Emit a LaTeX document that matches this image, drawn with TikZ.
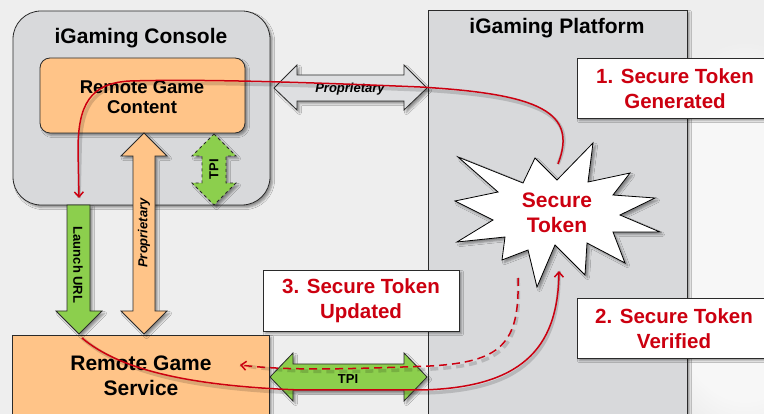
\documentclass[tikz,border=0pt]{standalone}
\usepackage{fontspec}
\setmainfont{Liberation Sans}
\usetikzlibrary{shadows,shadows.blur,arrows.meta,fadings}
\definecolor{bgc}{HTML}{EEEEEE}
\definecolor{panel}{HTML}{D8D9DB}
\definecolor{orng}{HTML}{FFC488}
\definecolor{grn}{HTML}{8CCF4D}
\definecolor{tokred}{HTML}{CC0010}
\definecolor{edge}{HTML}{2A2A2A}
\definecolor{arrgrey}{HTML}{DEDFE1}
\begin{document}
\begin{tikzpicture}[x=1pt,y=-1pt,
  shad/.style={blur shadow={shadow xshift=2.5pt,shadow yshift=-2.5pt}},
  boxline/.style={draw=edge,line width=0.8pt},
  titletxt/.style={font=\fontsize{21}{25}\selectfont\bfseries,align=center,inner sep=0pt},
  bodytxt/.style={font=\fontsize{18.5}{20.7}\selectfont\bfseries,align=center,inner sep=0pt},
  bigtxt/.style={font=\fontsize{21}{25}\selectfont\bfseries,align=center,inner sep=0pt},
  redtxt/.style={font=\fontsize{20.5}{25}\selectfont\bfseries,text=tokred,align=center,inner sep=0pt},
  smalltxt/.style={font=\fontsize{13}{15}\selectfont\bfseries,inner sep=0pt},
  redline/.style={draw=tokred,line width=1.5pt},
  redshadow/.style={draw=black,opacity=0.15,line width=3.5pt},
  redtip/.style={-{Straight Barb[length=5pt,width=9pt]}}
]
\useasboundingbox (0,0) rectangle (764,414);
% background
\fill[bgc] (0,0) rectangle (764,414);
\fill[white,path fading=circle with fuzzy edge 20 percent,opacity=0.55] (745,240) ellipse [x radius=110pt,y radius=200pt];

% platform
\draw[boxline,fill=panel,shad] (428,10) rectangle (687,440);
\node[titletxt] (platformtitle) at (557,28) {iGaming Platform};

% console
\draw[boxline,fill=panel,rounded corners=28pt,shad] (13,11) rectangle (270,205);
\node[titletxt] (consoletitle) at (141,38) {iGaming Console};
\draw[boxline,fill=orng,rounded corners=10pt,shad] (40,58) rectangle (245,133);
\node[bodytxt] (rgc) at (142,97) {Remote Game\\Content};

% remote game service
\draw[boxline,fill=orng,shad] (12,335) rectangle (269,440);
\node[bigtxt] (rgs) at (141,376) {Remote Game\\Service};

% orange proprietary arrow
\draw[boxline,fill=orng,shad] (144,133) -- (167,156) -- (155,156) -- (155,311) -- (167,311) -- (144,334)
  -- (121,311) -- (133,311) -- (133,156) -- (121,156) -- cycle;
\node[smalltxt,font=\fontsize{13}{15}\selectfont\bfseries\itshape,rotate=90] (propv) at (144,233) {Proprietary};

% green TPI in console (dashed)
\draw[boxline,dashed,fill=grn,shad] (214,134) -- (236,156) -- (226,156) -- (226,183) -- (236,183) -- (214,205)
  -- (192,183) -- (202,183) -- (202,156) -- (192,156) -- cycle;
\node[smalltxt,rotate=90] (tpiv) at (214,169) {TPI};

% launch URL arrow
\draw[boxline,fill=grn,shad] (67,205) -- (90,205) -- (90,311) -- (102,311) -- (79,334) -- (56,311) -- (67,311) -- cycle;
\node[smalltxt,rotate=-90] (launch) at (78,265) {Launch URL};

% grey proprietary double arrow
\draw[boxline,fill=arrgrey,shad] (274,88) -- (297,65) -- (297,75) -- (404,75) -- (404,65) -- (427,88)
  -- (404,110) -- (404,101) -- (297,101) -- (297,110) -- cycle;
\node[smalltxt,font=\fontsize{13}{15}\selectfont\bfseries\itshape] (proph) at (350,89) {Proprietary};

% green TPI double arrow
\draw[boxline,fill=grn,shad] (270,377) -- (293,353) -- (293,364) -- (404,364) -- (404,353) -- (427,377)
  -- (404,401) -- (404,390) -- (293,390) -- (293,401) -- cycle;
\node[smalltxt] (tpih) at (348,379) {TPI};

% starburst
\draw[draw=black,line width=0.8pt,fill=white,shad] (458,157) -- (523,183) -- (535,158) -- (557,180) -- (593,143)
  -- (588,182) -- (630,173) -- (613,195) -- (655,198) -- (620,215) -- (660,232) -- (613,232)
  -- (625,263) -- (587,243) -- (585,275) -- (555,245) -- (537,287) -- (528,250) -- (502,260)
  -- (505,237) -- (457,242) -- (493,220) -- (455,201) -- (498,192) -- cycle;
\node[bigtxt,text=tokred] (tok) at (557,213) {Secure\\Token};

% labels
\draw[draw=edge,line width=0.8pt,fill=white,shad] (577,58) rectangle (790,118);
\node[redtxt] (step1) at (675,89) {1. Secure Token\\Generated};
\draw[draw=edge,line width=0.8pt,fill=white,shad] (577,298) rectangle (790,358);
\node[redtxt] (step2) at (674,329) {2. Secure Token\\Verified};
\draw[draw=edge,line width=0.8pt,fill=white,shad] (263,270) rectangle (459,331);
\node[redtxt] (step3) at (361,301) {3. Secure Token\\Updated};

% connector end points
\coordinate (tokA) at (558,164);
\coordinate (rgcEnd) at (79,198);
\coordinate (rgsStart) at (82,338);
\coordinate (tokB) at (559,271);
\coordinate (tokC) at (518,278);
\coordinate (rgsEnd) at (240,365);

\def\pathA{(tokA) .. controls (578,112) and (540,94) .. (420,87) .. controls (300,82) and (200,79) .. (130,81) .. controls (90,83) and (78,105) .. (78,150) -- (rgcEnd)}
\def\pathB{(rgsStart) .. controls (120,370) and (190,386) .. (300,390) -- (420,390) .. controls (520,388) and (558,350) .. (tokB)}
\def\pathC{(tokC) .. controls (520,345) and (500,362) .. (430,366) .. controls (350,369) and (290,371) .. (rgsEnd)}

\begin{scope}[xshift=2pt,yshift=-3pt]
  \draw[redshadow] \pathA;
  \draw[redshadow] \pathB;
  \draw[redshadow,dash pattern=on 8pt off 5pt] \pathC;
\end{scope}
\draw[redline,redtip] \pathA;
\draw[redline,redtip] \pathB;
\draw[redline,redtip,dash pattern=on 8pt off 5pt] \pathC;
\end{tikzpicture}
\end{document}
